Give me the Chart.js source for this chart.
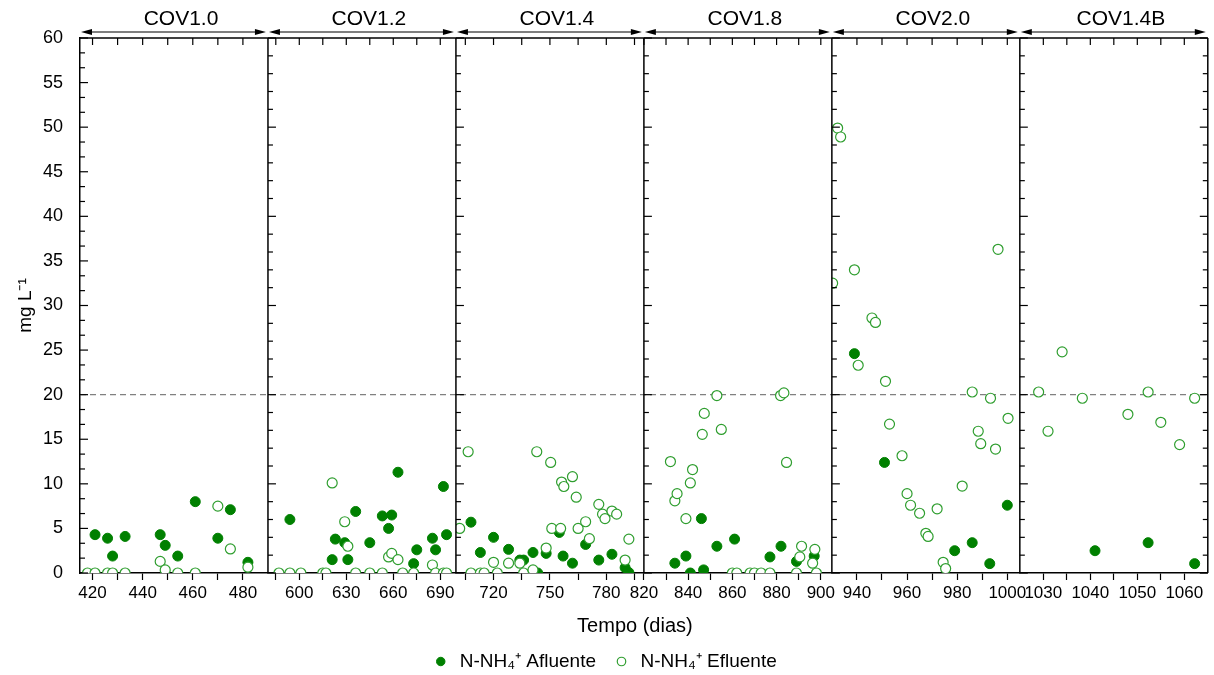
<!DOCTYPE html>
<html>
<head>
<meta charset="utf-8">
<script src="https://cdn.jsdelivr.net/npm/chart.js@4.4.1/dist/chart.umd.min.js"></script>
<style>
  html, body { margin: 0; padding: 0; background: #fff; }
  #wrap { width: 1214px; height: 675px; position: relative; }
</style>
</head>
<body>
<div id="wrap"><canvas id="nh4Chart"></canvas></div>
<script>
// Panels (one per COV phase)
const painelNomes = ["COV1.0", "COV1.2", "COV1.4", "COV1.8", "COV2.0", "COV1.4B"];
const xMin = [415, 580, 700, 820, 930, 1025];
const xMax = [490, 700, 800, 905, 1005, 1065];
const xMajor = [
    [420, 440, 460, 480],
    [600, 630, 660, 690],
    [720, 750, 780],
    [820, 840, 860, 880, 900],
    [940, 960, 980, 1000],
    [1030, 1040, 1050, 1060]
];
const xMinor = [
    [430, 450, 470],
    [585, 615, 645, 675],
    [705, 735, 765, 795],
    [830, 850, 870, 890],
    [950, 970, 990],
    [1035, 1045, 1055]
];
const yTicks = [0, 5, 10, 15, 20, 25, 30, 35, 40, 45, 50, 55, 60];
const limiteRef = 20;

// N-NH4+ afluente (filled) and efluente (hollow), per panel
const afl1Dias = [421, 426, 428, 433, 447, 449, 454, 461, 470, 475, 482];
const afl1Conc = [4.3, 3.9, 1.9, 4.1, 4.3, 3.1, 1.9, 8.0, 3.9, 7.1, 1.2];
const efl1Dias = [418, 421, 426, 428, 433, 447, 449, 454, 461, 470, 475, 482];
const efl1Conc = [0, 0, 0, 0, 0, 1.3, 0.35, 0, 0, 7.5, 2.7, 0.65];

const afl2Dias = [594, 621, 623, 629, 631, 636, 645, 653, 657, 659, 663, 673, 675, 685, 687, 692, 694];
const afl2Conc = [6.0, 1.5, 3.8, 3.4, 1.5, 6.9, 3.4, 6.4, 5.0, 6.5, 11.3, 1.05, 2.6, 3.9, 2.6, 9.7, 4.3];
const efl2Dias = [587, 594, 601, 615, 617, 621, 629, 631, 636, 645, 653, 657, 659, 663, 666, 673, 685, 687, 692, 694];
const efl2Conc = [0, 0, 0, 0, 0, 10.1, 5.75, 3.0, 0, 0, 0, 1.8, 2.2, 1.5, 0, 0, 0.9, 0, 0, 0];

const afl3Dias = [708, 713, 720, 728, 734, 736, 741, 743.5, 748, 755, 757, 762, 769, 776, 783, 790, 792];
const afl3Conc = [5.7, 2.3, 4.0, 2.65, 1.45, 1.45, 2.3, 0, 2.2, 4.55, 1.9, 1.1, 3.2, 1.45, 2.1, 0.6, 0.05];
const efl3Dias = [702, 706.5, 708, 713, 715, 720, 722, 728, 734, 736, 741, 743, 748, 750.4, 751, 755.7, 756.2, 757.4,
                  762, 764, 765, 769, 771, 776, 778, 779.3, 783, 785.5, 790, 792];
const efl3Conc = [5.0, 13.6, 0, 0, 0, 1.2, 0, 1.1, 1.1, 0, 0.35, 13.6, 2.8, 12.4, 5.0, 5.0, 10.2, 9.7,
                  10.8, 8.5, 5.0, 5.75, 3.85, 7.7, 6.6, 6.1, 6.95, 6.6, 1.45, 3.8];

const afl4Dias = [834, 839, 841, 846, 847, 853, 861, 877, 882, 889, 897];
const afl4Conc = [1.1, 1.9, 0, 6.1, 0.35, 3.0, 3.8, 1.8, 3.0, 1.3, 1.9];
const efl4Dias = [832, 834, 835, 839, 841, 842, 846.4, 847.3, 853, 855, 860, 862, 868, 870, 873, 877,
                  881.8, 883.3, 884.5, 889, 890.5, 891.3, 896.3, 897.3, 898];
const efl4Conc = [12.5, 8.1, 8.9, 6.1, 10.1, 11.6, 15.55, 17.9, 19.9, 16.1, 0, 0, 0, 0, 0, 0,
                  19.9, 20.2, 12.4, 0, 1.8, 3.0, 1.1, 2.65, 0];

const afl5Dias = [939, 951, 979, 986, 993, 1000];
const afl5Conc = [24.6, 12.4, 2.5, 3.4, 1.05, 7.6];
const efl5Dias = [930.3, 932.3, 933.5, 939, 940.5, 946, 947.4, 951.4, 953, 958, 960, 961.4, 965, 967.5, 968.4,
                  972, 974.4, 975.4, 982, 986, 988.4, 989.4, 993.3, 995.3, 996.3, 1000.3];
const efl5Conc = [32.5, 49.9, 48.9, 34.0, 23.3, 28.6, 28.1, 21.5, 16.7, 13.15, 8.9, 7.6, 6.7, 4.45, 4.1,
                  7.2, 1.2, 0.5, 9.75, 20.3, 15.9, 14.5, 19.6, 13.9, 36.3, 17.35];

const afl6Dias = [1041, 1052.3, 1062.2];
const afl6Conc = [2.5, 3.4, 1.05];
const efl6Dias = [1029, 1031, 1034, 1038.3, 1048, 1052.3, 1055, 1059, 1062.2];
const efl6Conc = [20.3, 15.9, 24.8, 19.6, 17.8, 20.3, 16.9, 14.4, 19.6];

const aflDias = [afl1Dias, afl2Dias, afl3Dias, afl4Dias, afl5Dias, afl6Dias];
const aflConc = [afl1Conc, afl2Conc, afl3Conc, afl4Conc, afl5Conc, afl6Conc];
const eflDias = [efl1Dias, efl2Dias, efl3Dias, efl4Dias, efl5Dias, efl6Dias];
const eflConc = [efl1Conc, efl2Conc, efl3Conc, efl4Conc, efl5Conc, efl6Conc];

const FONT = "'Liberation Sans', Arial, sans-serif";
Chart.defaults.font.family = FONT;
Chart.defaults.color = "#000";

function pares(xs, ys) {
    return xs.map((x, k) => ({ x: x, y: ys[k] }));
}

// Build datasets: filled afluente + hollow efluente for every panel
const datasets = [];
painelNomes.forEach((nome, i) => {
    datasets.push({
        label: "N-NH\u2084\u207A Afluente",
        data: pares(aflDias[i], aflConc[i]),
        xAxisID: "x" + i,
        pointStyle: "circle",
        pointRadius: 5,
        borderWidth: 1,
        backgroundColor: "#008000",
        borderColor: "#008000",
        clip: 0,
        order: 1
    });
    datasets.push({
        label: "N-NH\u2084\u207A Efluente",
        data: pares(eflDias[i], eflConc[i]),
        xAxisID: "x" + i,
        pointStyle: "circle",
        pointRadius: 5,
        borderWidth: 1.2,
        backgroundColor: "#ffffff",
        borderColor: "#2f9e2f",
        clip: 0,
        order: 0
    });
});

// x scales stacked side by side
const scales = {
    y: {
        min: 0,
        max: 60,
        afterBuildTicks: s => { s.ticks = yTicks.map(v => ({ value: v })); },
        afterFit: s => { s.width = 80; },
        ticks: { font: { size: 18 }, color: "#000", padding: 9 },
        grid: { display: false },
        border: { display: true, color: "#000", width: 1.5 },
        title: { display: true, text: "mg L\u207B\u00B9", font: { size: 19 }, color: "#000", padding: { top: 14, bottom: 0 } }
    }
};
painelNomes.forEach((nome, i) => {
    scales["x" + i] = {
        type: "linear",
        position: "bottom",
        stack: "tempo",
        stackWeight: 1,
        min: xMin[i],
        max: xMax[i],
        afterBuildTicks: s => {
            s.ticks = xMajor[i].concat(xMinor[i]).sort((a, b) => a - b).map(v => ({ value: v }));
        },
        afterFit: s => {
            s.height = 63;
            s.paddingLeft = 0;
            s.paddingRight = 0;
        },
        ticks: {
            autoSkip: false,
            maxRotation: 0,
            minRotation: 0,
            padding: 3,
            font: { size: 17 },
            color: "#000",
            callback: v => xMajor[i].includes(v) ? String(v) : ""
        },
        grid: { drawOnChartArea: false, drawTicks: true, tickLength: 7, tickColor: "#000", tickWidth: 1.2 },
        border: { display: true, color: "#000", width: 1.5 }
    };
});

// Frames, inner ticks, panel arrows/titles, reference line
const quadros = {
    id: "quadros",
    beforeDatasetsDraw(chart) {
        const { ctx, chartArea: a, scales: { y } } = chart;
        const py = y.getPixelForValue(limiteRef);
        ctx.save();
        ctx.strokeStyle = "#808080";
        ctx.lineWidth = 1.3;
        ctx.setLineDash([6, 4]);
        ctx.beginPath();
        ctx.moveTo(a.left, py);
        ctx.lineTo(a.right, py);
        ctx.stroke();
        ctx.restore();
    },
    afterDraw(chart) {
        const { ctx, chartArea: a, scales: sc } = chart;
        const y = sc.y;
        const linha = (x0, y0, x1, y1) => {
            ctx.beginPath();
            ctx.moveTo(x0, y0);
            ctx.lineTo(x1, y1);
            ctx.stroke();
        };
        ctx.save();
        ctx.strokeStyle = "#000";
        ctx.fillStyle = "#000";

        ctx.lineWidth = 1.5;
        linha(a.left, a.top, a.right, a.top);
        linha(a.right, a.top, a.right, a.bottom);

        // left axis: major every 5, two minors between
        ctx.lineWidth = 1.2;
        for (let k = 0; k <= 36; k++) {
            const py = y.getPixelForValue(k * 5 / 3);
            linha(a.left, py, a.left + (k % 3 === 0 ? 8 : 5), py);
        }
        // right border ticks every 2
        for (let v = 0; v <= 60; v += 2) {
            const py = y.getPixelForValue(v);
            linha(a.right, py, a.right - (v % 10 === 0 ? 8 : 5), py);
        }

        painelNomes.forEach((nome, i) => {
            const s = sc["x" + i];
            if (i > 0) {
                ctx.lineWidth = 1.5;
                linha(s.left, a.top, s.left, a.bottom);
                ctx.lineWidth = 1.2;
                for (let v = 0; v <= 60; v += 2) {
                    const py = y.getPixelForValue(v);
                    linha(s.left, py, s.left + (v % 10 === 0 ? 8 : 5), py);
                }
            }
            ctx.lineWidth = 1.2;
            xMajor[i].concat(xMinor[i]).forEach(v => {
                const px = s.getPixelForValue(v);
                linha(px, a.top, px, a.top + 7);
            });

            // double arrow above the panel
            const ya = a.top - 6;
            const x0 = s.left + 1;
            const x1 = s.right - 2;
            ctx.lineWidth = 1.2;
            linha(x0 + 6, ya, x1 - 6, ya);
            ctx.beginPath();
            ctx.moveTo(x0, ya);
            ctx.lineTo(x0 + 11, ya - 3);
            ctx.lineTo(x0 + 11, ya + 3);
            ctx.closePath();
            ctx.fill();
            ctx.beginPath();
            ctx.moveTo(x1, ya);
            ctx.lineTo(x1 - 11, ya - 3);
            ctx.lineTo(x1 - 11, ya + 3);
            ctx.closePath();
            ctx.fill();

            ctx.font = "21px " + FONT;
            ctx.textAlign = "center";
            ctx.textBaseline = "middle";
            ctx.fillText(nome, (s.left + s.right) / 2 + 7, a.top - 19);
        });

        ctx.font = "20px " + FONT;
        ctx.textAlign = "center";
        ctx.textBaseline = "middle";
        ctx.fillText("Tempo (dias)", (a.left + a.right) / 2 - 9, a.bottom + 53);
        ctx.restore();
    }
};

const ctx = document.getElementById("nh4Chart").getContext("2d");
const nh4Chart = new Chart(ctx, {
    type: "scatter",
    data: { datasets: datasets },
    options: {
        responsive: true,
        maintainAspectRatio: false,
        animation: false,
        layout: { padding: { left: 0, right: 6, top: 38, bottom: 0 } },
        scales: scales,
        plugins: {
            tooltip: { enabled: false },
            legend: {
                position: "bottom",
                maxHeight: 39,
                labels: {
                    usePointStyle: true,
                    boxHeight: 6,
                    padding: 16,
                    color: "#000",
                    font: { size: 19 },
                    filter: item => item.datasetIndex < 2,
                    sort: (p, q) => p.datasetIndex - q.datasetIndex
                }
            }
        }
    },
    plugins: [quadros]
});
</script>
</body>
</html>
